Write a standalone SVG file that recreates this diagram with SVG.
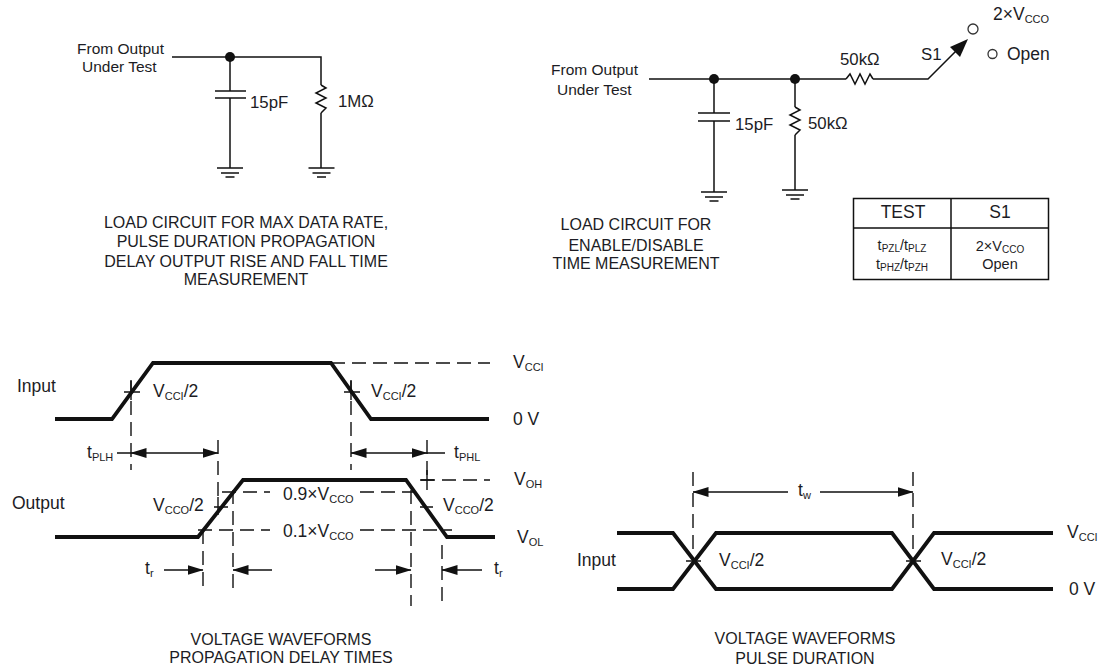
<svg xmlns="http://www.w3.org/2000/svg" width="1105" height="669" viewBox="0 0 1105 669">
<defs>
<marker id="arr" viewBox="0 0 16 10" refX="15.500" refY="5" markerUnits="userSpaceOnUse" markerWidth="16" markerHeight="10" orient="auto-start-reverse"><path d="M0 0L16 5L0 10Z" fill="#111"/></marker>
<g id="gnd"><path d="M-13 0H13M-9 5H9M-4.500 9H4.500" class="w"/></g>
</defs>
<style>
text{font-family:"Liberation Sans",Arial,sans-serif;font-size:17.500px;fill:#1c1c24}
.f{font-size:15.500px}
.v{font-size:16.800px}
.c{font-size:16px;text-anchor:middle}
.t{font-size:17.500px;text-anchor:middle}
.u{font-size:14.500px;text-anchor:middle}
.s{font-size:11px}
.ss{font-size:10px}
.w{fill:none;stroke:#111;stroke-width:1.500}
.th{fill:none;stroke:#111;stroke-width:3.800;stroke-linejoin:miter}
.d{fill:none;stroke:#111;stroke-width:1.400;stroke-dasharray:14 7}
.a{fill:none;stroke:#111;stroke-width:1.400;marker-end:url(#arr)}
.b{fill:none;stroke:#111;stroke-width:1.400;marker-start:url(#arr);marker-end:url(#arr)}
.l{fill:none;stroke:#111;stroke-width:1.400}
.dot{fill:#111}
.o{fill:#fff;stroke:#333;stroke-width:1.300}
</style>
<g id="connectors">
<path class="w" d="M172 57H321V85M321 113V168M230 57V91M230 98V168"/>
<path class="w" d="M649 79H846M873 79H928L962 45M714 79V113M714 121V192M795 79V107M795 135V190"/>
<path d="M968 39L950 47L960 57Z" fill="#111"/>
</g>
<g id="load1">
<circle class="dot" cx="230" cy="57" r="5"/>
<path class="w" d="M215 91H246M215 98H246"/>
<path class="w" d="M321 85L326 88L316 93L326 98L316 103L326 108L321 113"/>
<use href="#gnd" x="230" y="168"/><use href="#gnd" x="321.500" y="168"/>
<text class="f" x="77" y="54">From Output</text><text class="f" x="82" y="72">Under Test</text>
<text class="v" x="250" y="108">15pF</text><text class="v" x="338" y="107">1MΩ</text>
<text class="c" x="246" y="228">LOAD CIRCUIT FOR MAX DATA RATE,</text>
<text class="c" x="246" y="247">PULSE DURATION PROPAGATION</text>
<text class="c" x="246" y="267">DELAY OUTPUT RISE AND FALL TIME</text>
<text class="c" x="246" y="285">MEASUREMENT</text>
</g>
<g id="load2">
<circle class="dot" cx="714" cy="79" r="5"/><circle class="dot" cx="795" cy="79" r="5"/>
<path class="w" d="M698 113H730M698 121H730"/>
<path class="w" d="M795 107L800 110L790 115L800 120L790 125L800 130L795 135"/>
<path class="w" d="M846 79L850 74L855 84L860 74L865 84L870 74L873 79"/>
<use href="#gnd" x="714" y="192"/><use href="#gnd" x="795" y="190"/>
<circle class="o" cx="973" cy="29" r="5"/><circle class="o" cx="992.500" cy="54" r="4.500"/>
<text class="f" x="551" y="75">From Output</text><text class="f" x="557" y="95">Under Test</text>
<text class="v" x="735" y="130">15pF</text><text class="v" x="808" y="129">50kΩ</text>
<text class="v" x="840" y="65">50kΩ</text><text class="v" x="921" y="60">S1</text>
<text x="993" y="20">2×V<tspan class="s" dy="3">CCO</tspan></text><text x="1007" y="60">Open</text>
<text class="c" x="636" y="230">LOAD CIRCUIT FOR</text>
<text class="c" x="636" y="251">ENABLE/DISABLE</text>
<text class="c" x="636" y="269">TIME MEASUREMENT</text>
</g>
<g id="table">
<rect x="853.500" y="198.500" width="195" height="81" fill="none" stroke="#111" stroke-width="1.500"/>
<path class="w" d="M951 198V279M853 228H1048"/>
<text class="t" x="903" y="218">TEST</text><text class="t" x="1000" y="218">S1</text>
<text class="u" x="902" y="250">t<tspan class="ss" dy="2">PZL</tspan><tspan dy="-2">/t</tspan><tspan class="ss" dy="2">PLZ</tspan></text>
<text class="u" x="902" y="269">t<tspan class="ss" dy="2">PHZ</tspan><tspan dy="-2">/t</tspan><tspan class="ss" dy="2">PZH</tspan></text>
<text class="u" x="1000" y="251">2×V<tspan class="ss" dy="2">CCO</tspan></text>
<text class="u" x="1000" y="269">Open</text>
</g>
<g id="propagation">
<path class="th" d="M55 419H112L153 363H331L371 419H489"/>
<path class="th" d="M55 537H198L243 480H406L447 537H495"/>
<path class="d" d="M331 363H490M421 480H490M222 492H270M360 492H423M198 530H270M360 530H452"/>
<path class="d" d="M131 380V470M351 380V470M218 440V500M427 440V480M203 530V592M233 490V595M411 490V606M442 545V606"/>
<path class="l" d="M124 392H140M131 381V400M344 392H360M351 381V400M214 507H228M218 497V515M420 480H434M427 470V490M420 507H433"/>
<path class="l" d="M117 453H131M427 453H445"/>
<path class="b" d="M131 453H218"/><path class="b" d="M351 453H427"/>
<path class="a" d="M164 570H203"/><path class="a" d="M272 570H233"/><path class="a" d="M375 570H411"/><path class="a" d="M482 570H442"/>
<text x="17" y="392">Input</text><text x="12" y="509">Output</text>
<text x="153" y="397">V<tspan class="s" dy="3">CCI</tspan><tspan dy="-3">/2</tspan></text>
<text x="371" y="397">V<tspan class="s" dy="3">CCI</tspan><tspan dy="-3">/2</tspan></text>
<text x="153" y="511">V<tspan class="s" dy="3">CCO</tspan><tspan dy="-3">/2</tspan></text>
<text x="443" y="511">V<tspan class="s" dy="3">CCO</tspan><tspan dy="-3">/2</tspan></text>
<text x="283" y="500">0.9×V<tspan class="s" dy="3">CCO</tspan></text>
<text x="283" y="537">0.1×V<tspan class="s" dy="3">CCO</tspan></text>
<text x="513" y="368">V<tspan class="s" dy="3">CCI</tspan></text>
<text x="513" y="425">0 V</text>
<text x="514" y="485">V<tspan class="s" dy="3">OH</tspan></text>
<text x="517" y="543">V<tspan class="s" dy="3">OL</tspan></text>
<text x="87" y="458">t<tspan class="s" dy="3">PLH</tspan></text>
<text x="454" y="458">t<tspan class="s" dy="3">PHL</tspan></text>
<text x="145" y="574">t<tspan class="s" dy="3">r</tspan></text>
<text x="494" y="574">t<tspan class="s" dy="3">r</tspan></text>
<text class="c" x="281" y="645">VOLTAGE WAVEFORMS</text>
<text class="c" x="281" y="663">PROPAGATION DELAY TIMES</text>
</g>
<g id="pulse">
<path class="th" d="M617 533H673L716 589H892L934 533H1053"/>
<path class="th" d="M617 589H673L716 533H892L934 589H1053"/>
<path class="d" d="M693 472V550M913 472V550"/>
<path class="l" d="M686 561H701M906 561H921"/>
<path class="l" d="M693 492H788M820 492H913" marker-start="url(#arr)" marker-end="url(#arr)"/>
<text x="798" y="496">t<tspan class="s" dy="3">w</tspan></text>
<text x="577" y="566">Input</text>
<text x="719" y="566">V<tspan class="s" dy="3">CCI</tspan><tspan dy="-3">/2</tspan></text>
<text x="941" y="565">V<tspan class="s" dy="3">CCI</tspan><tspan dy="-3">/2</tspan></text>
<text x="1067" y="538">V<tspan class="s" dy="3">CCI</tspan></text>
<text x="1069" y="595">0 V</text>
<text class="c" x="805" y="644">VOLTAGE WAVEFORMS</text>
<text class="c" x="805" y="664">PULSE DURATION</text>
</g>
</svg>
